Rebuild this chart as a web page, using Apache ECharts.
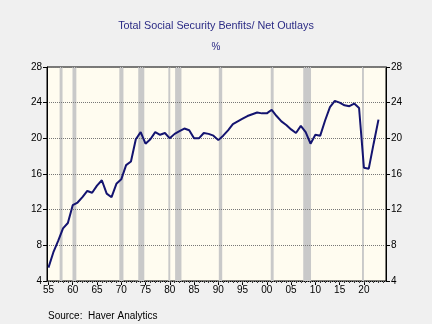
<!DOCTYPE html>
<html><head><meta charset="utf-8">
<script src="https://cdn.jsdelivr.net/npm/echarts@6/dist/echarts.min.js"></script>
<style>html,body{margin:0;padding:0;background:#f0f0f0}#c{width:432px;height:324px}</style>
</head><body><div id="c"></div>
<script>
const years = [];
for (let y = 1955; y <= 2023; y++) years.push(y);
const values = [
 5.5, 7.2, 8.5, 9.9, 10.5, 12.5, 12.8, 13.4, 14.1, 13.9,
 14.7, 15.3, 13.8, 13.4, 14.9, 15.4, 17.0, 17.4, 19.9, 20.7,
 19.4, 19.9, 20.7, 20.4, 20.6, 20.0, 20.5, 20.8, 21.1, 20.9,
 20.0, 20.0, 20.6, 20.5, 20.3, 19.8, 20.3, 20.9, 21.6, 21.9,
 22.2, 22.5, 22.7, 22.9, 22.8, 22.8, 23.2, 22.5, 21.9, 21.5,
 21.0, 20.6, 21.4, 20.7, 19.4, 20.4, 20.3, 22.0, 23.5, 24.2,
 24.0, 23.7, 23.6, 23.9, 23.4, 16.7, 16.6, 19.4, 22.1
];
const recessions = [
 [1957.3, 1957.9], [1959.95, 1960.75], [1969.6, 1970.45], [1973.5, 1974.75],
 [1979.7, 1980.1], [1981.1, 1982.4], [1990.1, 1990.8], [2000.8, 2001.4],
 [2007.5, 2009.1], [2019.6, 2020.0]
];
const xLabelYears = [1955,1960,1965,1970,1975,1980,1985,1990,1995,2000,2005,2010,2015,2020];
const yTicks = [4, 8, 12, 16, 20, 24, 28];
const titleText = 'Total Social Security Benfits/ Net Outlays';
const subtitleText = '%';
const sourceText = 'Source:  Haver Analytics';

const minorYears = [];
for (let y = 1955; y <= 2024; y++) minorYears.push(y);

const seriesData = years.map((y, i) => [y, values[i]]);
const chart = echarts.init(document.getElementById('c'), null, {renderer: 'canvas'});
const font = 'Liberation Sans, Arial, sans-serif';
const xMin = 1954.7, xMax = 2024.55;
const gridBox = {left: 47, right: 46, top: 67, bottom: 43};
chart.setOption({
  backgroundColor: '#f0f0f0',
  animation: false,
  title: [
    {text: titleText, left: 'center', top: 16, textStyle: {fontFamily: font, fontSize: 10.8, fontWeight: 'normal', color: '#2b2b85'}},
    {text: subtitleText, left: 'center', top: 37, textStyle: {fontFamily: font, fontSize: 10, fontWeight: 'normal', color: '#2b2b85'}},
    {text: sourceText, left: 43, top: 306, textStyle: {fontFamily: font, fontSize: 10, fontWeight: 'normal', color: '#000'}}
  ],
  grid: Object.assign({show: true, backgroundColor: '#fffcf0', borderColor: '#000', borderWidth: 1}, gridBox),
  xAxis: [
    {type: 'value', min: xMin, max: xMax, position: 'bottom',
     axisLine: {show: true, onZero: false, lineStyle: {color: '#000', width: 1}},
     axisTick: {show: true, customValues: xLabelYears, length: 4, lineStyle: {color: '#000'}},
     axisLabel: {customValues: xLabelYears, formatter: v => String(Math.round(v) % 100).padStart(2, '0'),
                 fontFamily: font, fontSize: 10, color: '#000', margin: 4},
     splitLine: {show: false}},
    {type: 'value', min: xMin, max: xMax, position: 'bottom',
     axisLine: {show: false, onZero: false},
     axisTick: {show: true, customValues: minorYears, length: 2, lineStyle: {color: '#333'}},
     axisLabel: {show: false},
     splitLine: {show: false}}
  ],
  yAxis: [
    {type: 'value', min: 4, max: 28, interval: 4, position: 'left', z: 3,
     axisLine: {show: true, lineStyle: {color: '#000'}},
     axisTick: {show: true, length: 4, lineStyle: {color: '#000'}},
     axisLabel: {fontFamily: font, fontSize: 10, color: '#000', margin: 5},
     splitLine: {show: true, lineStyle: {color: '#777', type: [1, 1], width: 1}}},
    {type: 'value', min: 4, max: 28, interval: 4, position: 'right',
     axisLine: {show: true, lineStyle: {color: '#000'}},
     axisTick: {show: true, length: 4, lineStyle: {color: '#000'}},
     axisLabel: {fontFamily: font, fontSize: 10, color: '#000', margin: 5},
     splitLine: {show: false}}
  ],
  series: [
    {type: 'line', data: [], z: 1, silent: true,
     markArea: {silent: true, itemStyle: {color: '#c9c9c9'},
       data: recessions.map(r => [{xAxis: r[0]}, {xAxis: r[1]}])}},
    {type: 'line', data: seriesData, z: 4, showSymbol: false, symbol: 'none',
     lineStyle: {color: '#141470', width: 2}}
  ]
});
</script></body></html>
